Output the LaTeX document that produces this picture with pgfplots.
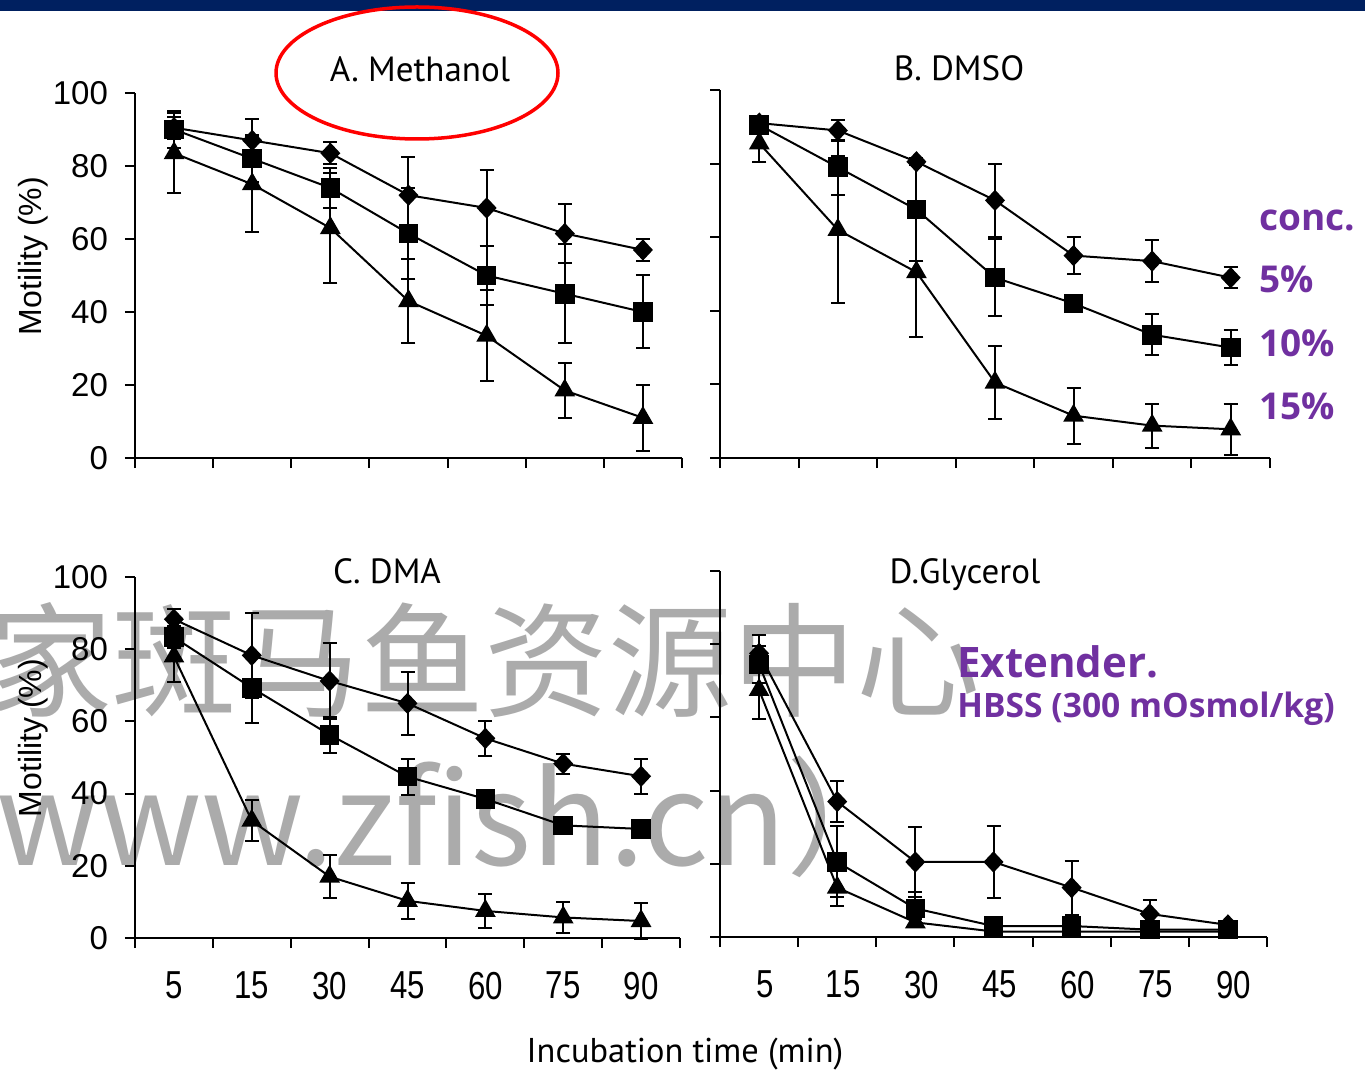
\documentclass[border=0pt]{standalone}
\usepackage{fontspec}
\setmainfont{Liberation Sans}
\newfontfamily\ptsans{PT Sans}
\newfontfamily\opensans{Open Sans}
\newfontfamily\narrowsans[FakeStretch=0.8]{Liberation Sans}
\newfontfamily\cjk{Noto Sans CJK SC}
\usepackage{pgfplots}
\pgfplotsset{compat=1.18}
\definecolor{navy}{HTML}{002060}
\definecolor{purp}{HTML}{7030A0}
\definecolor{wm}{HTML}{ABABAB}
\pgfplotsset{
 panel/.style={
  scale only axis, anchor=south west,
  axis lines=left, axis line style={-, line width=1pt, black},
  xmin=0.5, xmax=7.5, ymin=0, ymax=100,
  xtick={0.5,1.5,...,7.5}, xticklabels={},
  ytick={0,20,...,100},
  tick align=outside, major tick length=5pt,
  tick style={line width=1pt, black},
  clip=false,
  /pgf/number format/assume math mode=true,
  yticklabel style={font=\fontsize{16.5}{18}\selectfont, xshift=-5pt},
 },
 xlab/.style={extra x ticks={1,...,7}, extra x tick labels={5,15,30,45,60,75,90},
  extra x tick style={major tick length=0pt, xticklabel style={font=\narrowsans\fontsize{19.5}{22}\selectfont, yshift=-13.5pt, xshift=#1}}},
 xlab/.default=0pt,
 noy/.style={yticklabels={}},
 ser/.style={black, line width=1pt,
  error bars/y dir=both, error bars/y explicit, error bars/error mark=|,
  error bars/error bar style={line width=1pt, black},
  error bars/error mark options={line width=1pt, mark size=3.5pt, black}},
 dia/.style={ser, mark=diamond*, mark size=4.6pt, mark options={solid, fill=black, xscale=1.25}},
 sqr/.style={ser, mark=square*, mark size=4.4pt, mark options={solid, fill=black}},
 tri/.style={ser, mark=triangle*, mark size=5pt, mark options={solid, fill=black}},
}
\begin{document}
\begin{tikzpicture}
\path[use as bounding box] (0,0) rectangle (682.5pt,-537pt);
\begin{scope}[x=0.5pt,y=-0.5pt]
\fill[navy] (0,0) rectangle (1365,11);
\node[anchor=base west, font=\cjk\fontsize{62}{70}\selectfont, text=wm, inner sep=0] at (-12,707) {家斑马鱼资源中心};
\node[anchor=base west, font=\cjk\fontsize{64}{70}\selectfont, text=wm, inner sep=0] at (-4,865) {www.zfish.cn）};
\end{scope}

% A. Methanol
\begin{axis}[panel, at={(67.5pt,-229pt)}, width=273.5pt, height=182.5pt]
\addplot[tri] coordinates {(1,83.5) +- (0,11) (2,75) +- (0,13) (3,63) +- (0,15) (4,43) +- (0,11.5) (5,33.5) +- (0,12.5) (6,18.5) +- (0,7.5) (7,11) +- (0,9)};
\addplot[sqr] coordinates {(1,90) +- (0,5) (2,82) +- (0,6.5) (3,74) +- (0,5.5) (4,61.5) +- (0,12.5) (5,50) +- (0,8) (6,45) +- (0,13.5) (7,40) +- (0,10)};
\addplot[dia] coordinates {(1,90.5) +- (0,3) (2,87) +- (0,6) (3,83.5) +- (0,3) (4,72) +- (0,10.5) (5,68.5) +- (0,10.5) (6,61.5) +- (0,8) (7,57) +- (0,3)};
\end{axis}

% B. DMSO
\begin{axis}[panel, noy, at={(360pt,-229pt)}, width=275pt, height=184pt]
\addplot[tri] coordinates {(1,85.5) +- (0,5) (2,62) +- (0,20) (3,50.5) +- (0,17.7) (4,20.5) +- (0,10) (5,11.5) +- (0,7.6) (6,8.8) +- (0,6) (7,7.8) +- (0,7)};
\addplot[sqr] coordinates {(1,90.5) +- (0,1) (2,79) +- (0,7.5) (3,67.5) +- (0,14) (4,49) +- (0,10.5) (5,42) +- (0,2) (6,33.5) +- (0,5.5) (7,30) +- (0,4.7)};
\addplot[dia] coordinates {(1,91) +- (0,1) (2,89) +- (0,2.8) (3,80.5) +- (0,1) (4,70) +- (0,10) (5,55) +- (0,5) (6,53.5) +- (0,5.7) (7,49) +- (0,2.8)};
\end{axis}

% C. DMA
\begin{axis}[panel, xlab, at={(67.5pt,-469pt)}, width=272.5pt, height=180.5pt]
\addplot[tri] coordinates {(1,78) +- (0,7) (2,32.5) +- (0,5.6) (3,17) +- (0,5.9) (4,10.3) +- (0,5) (5,7.5) +- (0,4.7) (6,5.7) +- (0,4.2) (7,4.7) +- (0,5)};
\addplot[sqr] coordinates {(1,83.3) +- (0,3) (2,69.3) +- (0,9.7) (3,56.3) +- (0,5) (4,44.7) +- (0,5) (5,38.5) +- (0,2) (6,31.2) +- (0,1) (7,30.2) +- (0,1)};
\addplot[dia] coordinates {(1,88.3) +- (0,2.7) (2,78.3) +- (0,11.7) (3,71.2) +- (0,10.6) (4,65) +- (0,8.7) (5,55.3) +- (0,4.8) (6,48.3) +- (0,2.8) (7,44.8) +- (0,4.9)};
\end{axis}

% D. Glycerol
\begin{axis}[panel, noy, xlab=3pt, at={(360pt,-468.5pt)}, width=273.5pt, height=183pt]
\addplot[tri] coordinates {(1,67.5) +- (0,8) (2,13.5) +- (0,5) (3,4) +- (0,1) (4,1.5) +- (0,0.5) (5,1.5) +- (0,0.5) (6,1.5) +- (0,0.5) (7,1.5) +- (0,0.5)};
\addplot[sqr] coordinates {(1,74.5) +- (0,5) (2,20.5) +- (0,9.7) (3,7.8) +- (0,4.5) (4,3) +- (0,1) (5,3) +- (0,1) (6,2) +- (0,0.5) (7,2) +- (0,0.5)};
\addplot[dia] coordinates {(1,77.5) +- (0,5) (2,37) +- (0,5.5) (3,20.5) +- (0,9.6) (4,20.5) +- (0,9.8) (5,13.5) +- (0,7.4) (6,6.3) +- (0,3.7) (7,3.3) +- (0,1)};
\end{axis}

\begin{scope}[x=0.5pt,y=-0.5pt]
\draw[red, line width=1.75pt] (417,73) ellipse [x radius=141, y radius=66];
\node[anchor=base, font=\ptsans\fontsize{17.5}{20}\selectfont] at (420,82) {A. Methanol};
\node[anchor=base, font=\ptsans\fontsize{17.5}{20}\selectfont] at (959,81) {B. DMSO};
\node[anchor=base, font=\ptsans\fontsize{17.5}{20}\selectfont] at (387,583) {C. DMA};
\node[anchor=base, font=\ptsans\fontsize{17.5}{20}\selectfont] at (965,584) {D.Glycerol};
\node[rotate=90, font=\fontsize{16}{18}\selectfont] at (33,256) {Motility (\%)};
\node[rotate=90, font=\fontsize{16}{18}\selectfont] at (33,738) {Motility (\%)};
\node[anchor=base, font=\ptsans\fontsize{17.2}{19}\selectfont] at (685,1062) {Incubation time (min)};
\node[anchor=base west, font=\opensans\bfseries\fontsize{18.5}{20}\selectfont, text=purp, inner sep=0] at (1259,231) {conc.};
\node[anchor=base west, font=\opensans\bfseries\fontsize{18.5}{20}\selectfont, text=purp, inner sep=0] at (1259,293) {5\%};
\node[anchor=base west, font=\opensans\bfseries\fontsize{18.5}{20}\selectfont, text=purp, inner sep=0] at (1259,357) {10\%};
\node[anchor=base west, font=\opensans\bfseries\fontsize{18.5}{20}\selectfont, text=purp, inner sep=0] at (1259,420) {15\%};
\node[anchor=base west, font=\opensans\bfseries\fontsize{21}{24}\selectfont, text=purp, inner sep=0] at (957,677) {Extender.};
\node[anchor=base west, font=\opensans\bfseries\fontsize{16.8}{19}\selectfont, text=purp, inner sep=0] at (957,717) {HBSS (300 mOsmol/kg)};
\end{scope}
\end{tikzpicture}
\end{document}
